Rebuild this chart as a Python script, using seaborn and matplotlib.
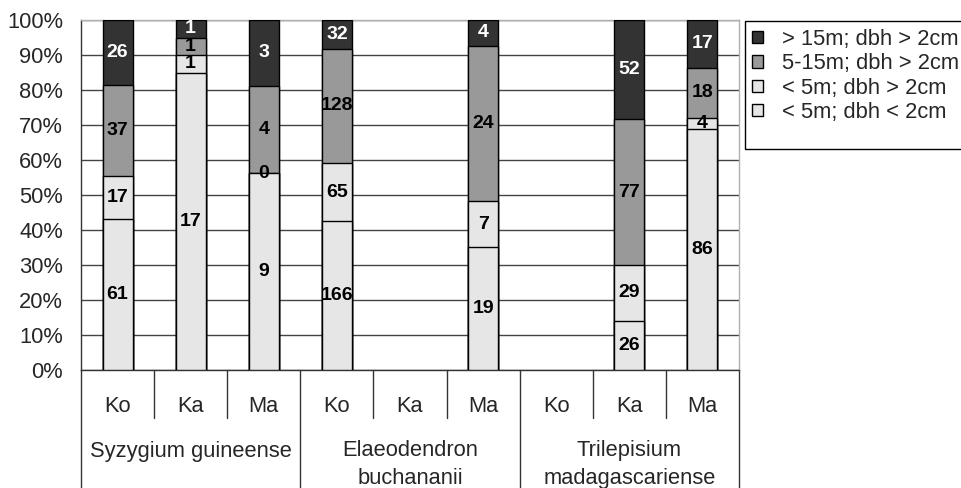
import numpy as np
import pandas as pd
import seaborn as sns
import matplotlib
matplotlib.use("Agg")
import matplotlib.pyplot as plt
from matplotlib.patches import Patch, Rectangle
from matplotlib.lines import Line2D

species = ["Syzygium guineense", "Elaeodendron\nbuchananii", "Trilepisium\nmadagascariense"]
sites = ["Ko", "Ka", "Ma"]

# counts per stand, ordered species x site; None = no trees recorded
small_lt2 = [61, 17, 9, 166, None, 19, None, 26, 86]   # < 5m; dbh < 2cm
small_gt2 = [17, 1, 0, 65, None, 7, None, 29, 4]       # < 5m; dbh > 2cm
mid_gt2 = [37, 1, 4, 128, None, 24, None, 77, 18]      # 5-15m; dbh > 2cm
tall_gt2 = [26, 1, 3, 32, None, 4, None, 52, 17]       # > 15m; dbh > 2cm

class_labels = ["> 15m; dbh > 2cm", "5-15m; dbh > 2cm", "< 5m; dbh > 2cm", "< 5m; dbh < 2cm"]
class_colors = ["#333333", "#999999", "#e6e6e6", "#e6e6e6"]

keys = [f"{s}|{site}" for s in species for site in sites]
layers = [small_lt2, small_gt2, mid_gt2, tall_gt2]  # bottom to top

rows = []
for i, k in enumerate(keys):
    vals = [l[i] for l in layers]
    if vals[0] is None:
        continue
    tot = sum(vals)
    cum = np.cumsum(vals) / tot * 100
    rows.append(dict(key=k, c1=cum[0], c2=cum[1], c3=cum[2], c4=cum[3],
                     n1=vals[0], n2=vals[1], n3=vals[2], n4=vals[3]))
df = pd.DataFrame(rows)

sns.set_style("white")
plt.rcParams["font.family"] = ["Liberation Sans", "DejaVu Sans"]

FS = 15.75
fig = plt.figure(figsize=(9.61, 4.88), dpi=100)
L, R, T, B = 81 / 961, 739 / 961, 1 - 20 / 488, 1 - 370 / 488
ax = fig.add_axes([L, B, R - L, T - B])

# cumulative bars drawn from the top class downwards so each one overlays the next
for col, color in zip(["c4", "c3", "c2", "c1"], class_colors):
    sns.barplot(data=df, x="key", y=col, order=keys, color=color, saturation=1,
                edgecolor="black", linewidth=1, width=0.41, errorbar=None, ax=ax, zorder=3)

# segment labels
pos = {k: i for i, k in enumerate(keys)}
for _, r in df.iterrows():
    x = pos[r["key"]]
    lows = [0, r["c1"], r["c2"], r["c3"]]
    highs = [r["c1"], r["c2"], r["c3"], r["c4"]]
    ns = [r["n1"], r["n2"], r["n3"], r["n4"]]
    for j, (lo, hi, n) in enumerate(zip(lows, highs, ns)):
        ax.text(x, (lo + hi) / 2, f"{int(n)}", ha="center", va="center",
                fontsize=14, fontweight="bold",
                color="white" if j == 3 else "black", zorder=5)

ax.set_xlim(-0.5, len(keys) - 0.5)
ax.set_ylim(0, 100)
ax.set_yticks(np.arange(0, 101, 10))
ax.set_yticklabels([f"{v}%" for v in range(0, 101, 10)], fontsize=FS)
ax.tick_params(axis="y", direction="out", length=5.8, width=1, color="#333333", pad=7)
ax.set_xticks([])
ax.set_xlabel("")
ax.set_ylabel("")
ax.yaxis.grid(True, color="#444444", linewidth=1)
ax.set_axisbelow(True)
for side in ["top", "right"]:
    ax.spines[side].set_color("#b0b0b0")
    ax.spines[side].set_linewidth(1)
for side in ["left", "bottom"]:
    ax.spines[side].set_color("#333333")
    ax.spines[side].set_linewidth(1)

# two-level category axis below the plot
trans = ax.get_xaxis_transform()
def yfrac(ypix):
    return (370 - ypix) / 350

for i, k in enumerate(keys):
    ax.text(i, yfrac(406), k.split("|")[1], transform=trans, ha="center", va="center",
            fontsize=FS, clip_on=False)
for g, s in enumerate(species):
    ax.text(3 * g + 1, yfrac(464.5) if "\n" in s else yfrac(451), s, transform=trans,
            ha="center", va="center", fontsize=FS, linespacing=1.45, clip_on=False)

for b in range(len(keys) + 1):
    x = b - 0.5
    bottom = yfrac(490) if b % 3 == 0 else yfrac(418)
    ax.add_line(Line2D([x, x], [0, bottom], transform=trans, color="#333333",
                       linewidth=1, clip_on=False))

# legend: entries without frame, box drawn separately
handles = [Patch(facecolor=c, edgecolor="black", linewidth=1) for c in class_colors]
leg = fig.legend(handles, class_labels, loc="upper left",
                 bbox_to_anchor=(752 / 961, 1 - 29 / 488), fontsize=FS,
                 frameon=False, handlelength=0.5, handleheight=0.5,
                 handletextpad=0.85, labelspacing=0.15, borderpad=0, borderaxespad=0)
fig.patches.append(Rectangle((745 / 961, 1 - 149 / 488), 230 / 961, 128 / 488,
                             transform=fig.transFigure, facecolor="none",
                             edgecolor="black", linewidth=1))

fig.savefig("out.png", dpi=100)
